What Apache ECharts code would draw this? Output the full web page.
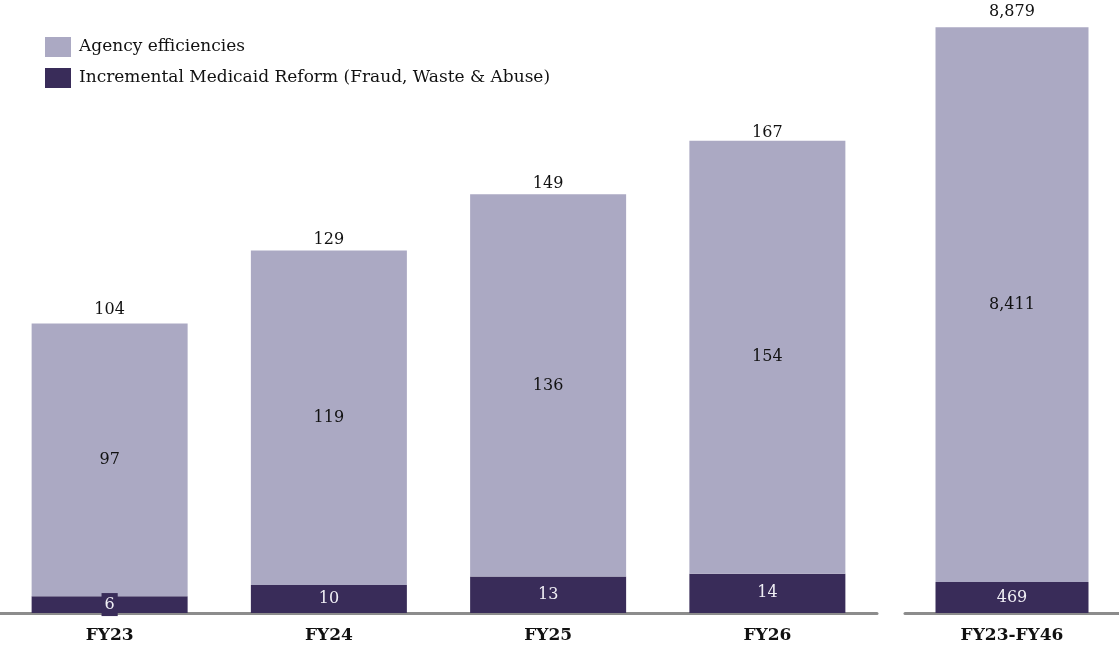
<!DOCTYPE html>
<html>
<head>
<meta charset="utf-8">
<script src="https://cdn.jsdelivr.net/npm/echarts@6/dist/echarts.min.js"></script>
<style>
html,body{margin:0;padding:0;background:#fff;}
#chart{width:1119px;height:646px;}
</style>
</head>
<body>
<div id="chart"></div>
<script>
const categoriesYear = ['FY23', 'FY24', 'FY25', 'FY26'];
const categoriesTotal = ['FY23-FY46'];
const agencyYear = [97, 119, 136, 154];
const medicaidYear = [6, 10, 13, 14];
const totalYear = [104, 129, 149, 167];
const agencyTotal = [8411];
const medicaidTotal = [469];
const totalTotal = [8879];

const FONT = '"DejaVu Serif", "Liberation Serif", serif';
const LIGHT = '#aba9c3';
const DARK = '#392c59';
const fmt = v => Number(v).toLocaleString('en-US');

const chart = echarts.init(document.getElementById('chart'));

function xAxisCfg(idx, data) {
  return {
    type: 'category', gridIndex: idx, data: data,
    axisTick: {show: false},
    axisLine: {lineStyle: {color: '#8c8c8c', width: 3}},
    axisLabel: {fontFamily: FONT, fontWeight: 'bold', fontSize: 17, color: '#111', margin: 14}
  };
}

function darkData(arr) {
  return arr.map((v) => {
    const small = v < 8 && arr === medicaidYear;
    return small ? {value: v, label: {backgroundColor: DARK, padding: [4, 3, 3, 3]}} : v;
  });
}

function seriesFor(idx, agency, medicaid, total, bw, dist) {
  return [
    {
      name: 'Incremental Medicaid Reform (Fraud, Waste & Abuse)',
      type: 'bar', xAxisIndex: idx, yAxisIndex: idx, stack: 's' + idx,
      barWidth: bw, data: darkData(medicaid),
      itemStyle: {color: DARK},
      label: {show: true, position: 'inside', color: '#f0eff5', fontFamily: FONT, fontSize: 16, formatter: p => fmt(p.value)}
    },
    {
      name: 'Agency efficiencies',
      type: 'bar', xAxisIndex: idx, yAxisIndex: idx, stack: 's' + idx,
      barWidth: bw, data: agency,
      itemStyle: {color: LIGHT},
      label: {show: true, position: 'inside', color: '#111', fontFamily: FONT, fontSize: 16, formatter: p => fmt(p.value)}
    },
    {
      name: 'total' + idx,
      type: 'scatter', xAxisIndex: idx, yAxisIndex: idx,
      data: total, symbolSize: 1, itemStyle: {color: 'rgba(0,0,0,0)', opacity: 1},
      label: {show: true, position: 'top', distance: dist, color: '#111', opacity: 1, fontFamily: FONT, fontSize: 16, formatter: p => fmt(p.value)},
      z: 5
    }
  ];
}

chart.setOption({
  animation: false,
  backgroundColor: '#fff',
  legend: {
    orient: 'vertical', left: 45, top: 37, padding: 0,
    itemWidth: 26, itemHeight: 20, itemGap: 11,
    icon: 'rect',
    data: ['Agency efficiencies', 'Incremental Medicaid Reform (Fraud, Waste & Abuse)'],
    textStyle: {fontFamily: FONT, fontSize: 17, color: '#111', padding: [2, 0, 0, 3]}
  },
  grid: [
    {left: 0, width: 877, top: 20, bottom: 33},
    {left: 905, right: 0, top: 20, bottom: 33}
  ],
  xAxis: [xAxisCfg(0, categoriesYear), xAxisCfg(1, categoriesTotal)],
  yAxis: [
    {type: 'value', gridIndex: 0, min: 0, max: 211, show: false},
    {type: 'value', gridIndex: 1, min: 0, max: 8990, show: false}
  ],
  series: [].concat(
    seriesFor(0, agencyYear, medicaidYear, totalYear, 156, 2),
    seriesFor(1, agencyTotal, medicaidTotal, totalTotal, 153, 7)
  )
});
</script>
</body>
</html>
